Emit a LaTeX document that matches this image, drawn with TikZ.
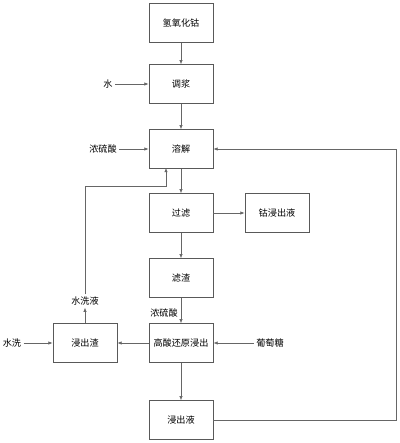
\documentclass[tikz,border=0pt]{standalone}
\usepackage{fontspec}
\newfontfamily\cjk{Noto Sans CJK SC}
\usetikzlibrary{arrows.meta}
\begin{document}
\begin{tikzpicture}[x=0.025cm,y=-0.025cm,
  box/.style={draw=black!65, line width=0.5pt, minimum width=1.6cm, minimum height=0.97cm, font=\cjk\fontsize{6.5}{7}\selectfont},
  lab/.style={font=\cjk\fontsize{6.5}{7}\selectfont, inner sep=1.5pt},
  flow/.style={draw=black!60, line width=0.45pt, -{Latex[length=3pt,width=2.4pt]}}]
\useasboundingbox (0,0) rectangle (400,443);
% main column
\node[box] (qyhg) at (181,23) {氢氧化钴};
\node[box] (tj) at (181,84) {调浆};
\node[box] (rj) at (181,149) {溶解};
\node[box] (gl) at (181,213) {过滤};
\node[box] (gjcy) at (277,213) {钴浸出液};
\node[box] (lz) at (181,278) {滤渣};
\node[box] (gs) at (181,343) {高酸还原浸出};
\node[box] (jcz) at (85,343) {浸出渣};
\node[box] (jcy) at (181,420) {浸出液};
% inputs
\node[lab] (shui) at (108,84) {水};
\node[lab] (nls1) at (103,149) {浓硫酸};
\node[lab] (nls2) at (164,313) {浓硫酸};
\node[lab] (ptt) at (270,343) {葡萄糖};
\node[lab] (sx) at (12,343) {水洗};
\node[lab] (sxy) at (85,301) {水洗液};
\coordinate (turn) at (85,186);
\coordinate (rjin) at (166,168);
\coordinate (loop) at (396,420);
\draw[flow] (qyhg) -- (tj);
\draw[flow] (tj) -- (rj);
\draw[flow] (rj) -- (gl);
\draw[flow] (gl) -- (gjcy);
\draw[flow] (gl) -- (lz);
\draw[flow] (lz) -- (gs);
\draw[flow] (gs) -- (jcz);
\draw[flow] (gs) -- (jcy);
\draw[flow] (shui) -- (tj);
\draw[flow] (nls1) -- (rj);
\draw[flow] (ptt) -- (gs);
\draw[flow] (sx) -- (jcz);
\draw[flow] (jcz) -- (sxy);
\draw[flow] (sxy) -- (turn) -| (rjin);
\draw[flow] (jcy) -- (loop) |- (rj);
\end{tikzpicture}
\end{document}
